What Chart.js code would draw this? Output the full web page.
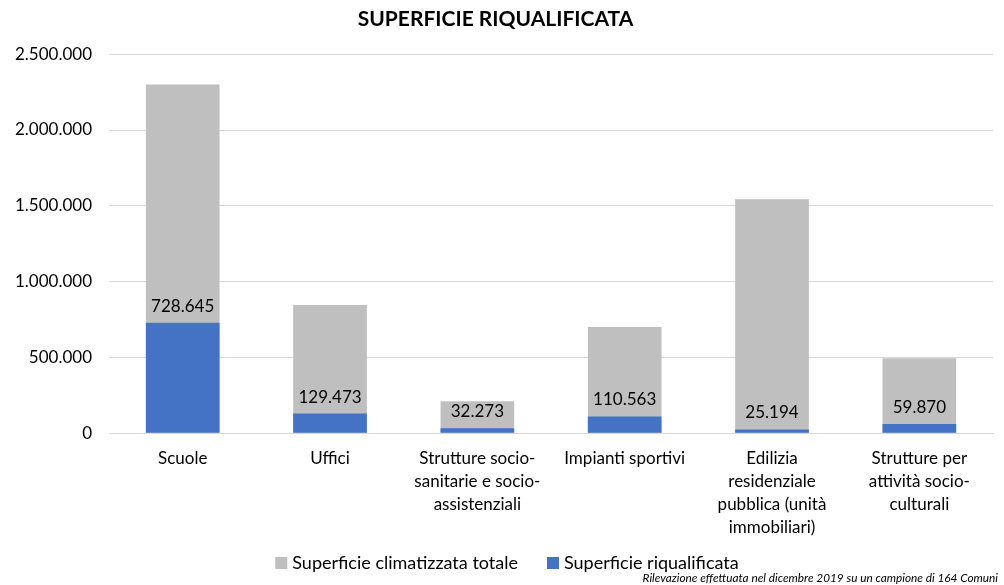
<!DOCTYPE html>
<html><head><meta charset="utf-8">
<script src="https://cdn.jsdelivr.net/npm/chart.js@4.4.0/dist/chart.umd.min.js"></script>
<style>html,body{margin:0;padding:0;background:#fff;}#wrap{width:1004px;height:585px;}</style>
</head><body><div id="wrap"><canvas id="c" width="1004" height="585"></canvas></div>
<script>
const categories = [
  "Scuole",
  "Uffici",
  ["Strutture socio-", "sanitarie e socio-", "assistenziali"],
  "Impianti sportivi",
  ["Edilizia", "residenziale", "pubblica (unità", "immobiliari)"],
  ["Strutture per", "attività socio-", "culturali"]
];
const totaleClimatizzata = [2300000, 845000, 211000, 700000, 1543000, 495000];
const riqualificata = [728645, 129473, 32273, 110563, 25194, 59870];
const seriesNames = ["Superficie climatizzata totale", "Superficie riqualificata"];
const seriesColors = ['#bfbfbf', '#4472c4'];
const titleText = "SUPERFICIE RIQUALIFICATA";
const noteText = "Rilevazione effettuata nel dicembre 2019 su un campione di 164 Comuni";

const FONT = "Lato, 'Open Sans', sans-serif";
function fmt(v){ return Math.round(v).toString().replace(/\B(?=(\d{3})+(?!\d))/g, "."); }

const labelPlugin = {
  id: 'barLabels',
  afterDatasetsDraw(chart){
    const meta = chart.getDatasetMeta(1);
    const ctx = chart.ctx;
    ctx.save();
    ctx.font = "17px " + FONT;
    ctx.fillStyle = "#000";
    ctx.textAlign = "center";
    ctx.textBaseline = "bottom";
    meta.data.forEach((bar, i) => {
      ctx.fillText(fmt(riqualificata[i]), bar.x, bar.y - 8);
    });
    ctx.restore();
  }
};

const legendNotePlugin = {
  id: 'legendNote',
  afterDraw(chart){
    const ctx = chart.ctx;
    ctx.save();
    ctx.font = "18px " + FONT;
    ctx.textBaseline = "middle";
    ctx.textAlign = "left";
    const box = 12, gapText = 5, gapItem = 29, y = 563;
    const w0 = ctx.measureText(seriesNames[0]).width;
    const w1 = ctx.measureText(seriesNames[1]).width;
    const total = box + gapText + w0 + gapItem + box + gapText + w1;
    let x = 507 - total / 2;
    [0, 1].forEach(i => {
      ctx.fillStyle = seriesColors[i];
      ctx.fillRect(x, y - box / 2, box, box);
      x += box + gapText;
      ctx.fillStyle = "#000";
      ctx.fillText(seriesNames[i], x, y);
      x += (i === 0 ? w0 : w1) + gapItem;
    });
    ctx.font = "italic 11.8px " + FONT;
    ctx.textAlign = "right";
    ctx.fillText(noteText, chart.width - 6, 578);
    ctx.restore();
  }
};

new Chart(document.getElementById('c'), {
  type: 'bar',
  data: {
    labels: categories,
    datasets: [
      { label: seriesNames[0], data: totaleClimatizzata, backgroundColor: seriesColors[0], order: 2,
        barPercentage: 0.5, categoryPercentage: 1.0 },
      { label: seriesNames[1], data: riqualificata, backgroundColor: seriesColors[1], order: 1,
        barPercentage: 0.5, categoryPercentage: 1.0 }
    ]
  },
  options: {
    responsive: false,
    animation: false,
    layout: { padding: { left: -2, right: 11, top: 0, bottom: 32 } },
    scales: {
      x: {
        stacked: true,
        grid: { display: false, drawTicks: false },
        border: { color: '#d9d9d9' },
        ticks: { color: '#000', font: { family: FONT, size: 17, lineHeight: 1.35 }, padding: 14, maxRotation: 0, autoSkip: false }
      },
      y: {
        stacked: false,
        min: 0, max: 2500000,
        grid: { color: '#d9d9d9', drawTicks: false },
        border: { display: false },
        ticks: { stepSize: 500000, color: '#000', font: { family: FONT, size: 17 }, padding: 17,
          callback: v => fmt(v) }
      }
    },
    plugins: {
      title: { display: true, text: titleText, color: '#000', font: { family: FONT, size: 21, weight: 'bold' }, padding: { top: 7, bottom: 22 } },
      legend: { display: false },
      tooltip: { enabled: false }
    }
  },
  plugins: [labelPlugin, legendNotePlugin]
});
</script></body></html>
